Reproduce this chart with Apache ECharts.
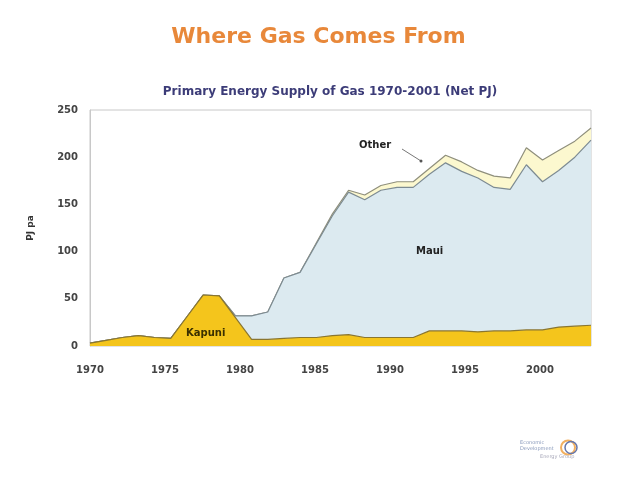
<!DOCTYPE html>
<html>
<head>
<meta charset="utf-8">
<script src="https://cdn.jsdelivr.net/npm/echarts@6/dist/echarts.min.js"></script>
<style>html,body{margin:0;padding:0;background:#fff}#c{width:637px;height:479px}</style>
</head>
<body>
<div id="c"></div>
<script>
var years = [1970,1971,1972,1973,1974,1975,1976,1977,1978,1979,1980,1981,1982,1983,1984,1985,1986,1987,1988,1989,1990,1991,1992,1993,1994,1995,1996,1997,1998,1999,2000,2001];
var kapuni = [3,6,9,11,9,8,31,54,53,30,7,7,8,9,9,11,12,9,9,9,9,16,16,16,15,16,16,17,17,20,21,22];
var maui   = [0,0,0,0,0,0,0,0,0,2,25,29,64,69,99,127,151,146,156,159,159,166,178,169,163,152,150,175,157,166,179,196];
var other  = [0,0,0,0,0,0,0,0,0,0,0,0,0,0,1,2,2,5,5,6,6,6,8,10,8,12,12,18,23,21,17,13];
var yTicks = [0,50,100,150,200,250];
var xTickLabels = [1970,1975,1980,1985,1990,1995,2000];

var chart = echarts.init(document.getElementById('c'), null, {renderer:'canvas'});
var labelFont = 'DejaVu Sans';
chart.setOption({
  backgroundColor:'#ffffff',
  animation:false,
  title:[
    {text:'Where Gas Comes From', left:'center', top:21,
     textStyle:{fontFamily:labelFont, fontSize:22, fontWeight:'bold', color:'#E8883A'}},
    {text:'Primary Energy Supply of Gas 1970-2001 (Net PJ)', left:325, top:81, textAlign:'center',
     textStyle:{fontFamily:labelFont, fontSize:12, fontWeight:'bold', color:'#3c3c78'}}
  ],
  grid:{left:90, right:46, top:110, bottom:133, show:true, borderColor:'#c8c8c8', borderWidth:1, backgroundColor:'#ffffff'},
  xAxis:[
    {type:'category', data:years, boundaryGap:false, show:false},
    {type:'value', min:1970, max:1970+501/15, interval:5, position:'bottom',
     axisLine:{show:false}, axisTick:{show:false}, splitLine:{show:false},
     axisLabel:{showMaxLabel:false, margin:19, fontFamily:labelFont, fontSize:10, fontWeight:'bold', color:'#444',
       formatter:function(v){return xTickLabels.indexOf(v)>=0 ? String(v) : '';}}}
  ],
  yAxis:{type:'value', min:yTicks[0], max:yTicks[yTicks.length-1], interval:50,
    name:'PJ pa', nameLocation:'middle', nameGap:55, nameRotate:90,
    nameTextStyle:{fontFamily:labelFont, fontSize:9, fontWeight:'bold', color:'#333'},
    axisLine:{show:true, lineStyle:{color:'#c8c8c8'}}, axisTick:{show:false}, splitLine:{show:false},
    axisLabel:{margin:12, fontFamily:labelFont, fontSize:10, fontWeight:'bold', color:'#444'}},
  series:[
    {name:'Kapuni', type:'line', stack:'t', data:kapuni, xAxisIndex:0, symbol:'none', z:4,
     lineStyle:{color:'#8a7630', width:1.2}, areaStyle:{color:'#F4C51C', opacity:1}},
    {name:'Maui', type:'line', stack:'t', data:maui, xAxisIndex:0, symbol:'none', z:3,
     lineStyle:{color:'#7d8b92', width:1.2}, areaStyle:{color:'#DCEAF0', opacity:1}},
    {name:'Other', type:'line', stack:'t', data:other, xAxisIndex:0, symbol:'none', z:2,
     lineStyle:{color:'#8f8f7c', width:1.2}, areaStyle:{color:'#FCF8CF', opacity:1}}
  ],
  graphic:[
    {type:'text', z:100, left:186, top:328, style:{text:'Kapuni', fontFamily:labelFont, fontSize:10, fontWeight:'bold', fill:'#3a3000'}},
    {type:'text', z:100, left:416, top:246, style:{text:'Maui', fontFamily:labelFont, fontSize:10, fontWeight:'bold', fill:'#222'}},
    {type:'text', z:100, left:359, top:140, style:{text:'Other', fontFamily:labelFont, fontSize:10, fontWeight:'bold', fill:'#222'}},
    {type:'line', z:100, shape:{x1:402, y1:149, x2:421, y2:161}, style:{stroke:'#777', lineWidth:1}},
    {type:'circle', z:100, shape:{cx:421, cy:161, r:1.5}, style:{fill:'#555'}},
    {type:'group', left:520, top:438, children:[
      {type:'text', left:0, top:0, style:{text:'Economic\nDevelopment', fontFamily:labelFont, fontSize:5, fill:'#8899bb', align:'left', lineHeight:6}},
      {type:'circle', shape:{cx:48, cy:8, r:7}, style:{fill:'none', stroke:'#f2b060', lineWidth:2}},
      {type:'circle', shape:{cx:51, cy:8, r:6}, style:{fill:'none', stroke:'#6677aa', lineWidth:1.5}},
      {type:'text', left:20, top:15, style:{text:'Energy Group', fontFamily:labelFont, fontSize:5, fill:'#aab', align:'left'}}
    ]}
  ]
});
</script>
</body>
</html>
